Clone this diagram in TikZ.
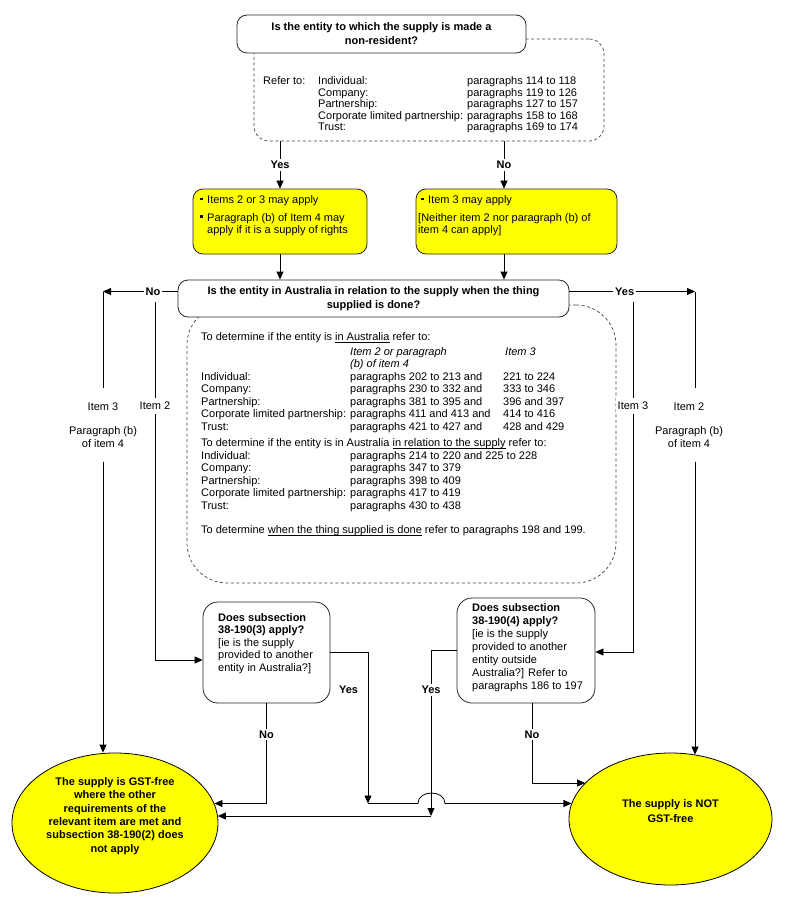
\documentclass[tikz,border=0pt]{standalone}
\usepackage{fontspec}
\setmainfont{Liberation Sans}
\usetikzlibrary{arrows.meta, shapes.geometric}
\definecolor{boxyellow}{HTML}{FFFF00}
\newcommand{\fsz}[1]{\fontsize{11}{#1}\selectfont}
\newcommand{\sqb}{\makebox[7pt][l]{\rule[2.5pt]{3pt}{3pt}}}
\newcommand{\undr}[1]{\setbox0\hbox{#1}\rlap{\rule[-2.2pt]{\wd0}{0.7pt}}\box0\relax}
\tikzset{
  line/.style={line width=0.8pt},
  conn/.style={line, -{Triangle[length=8pt,width=7pt]}},
  qbox/.style={draw=black!85, line width=0.8pt, fill=white, rounded corners=10pt, inner sep=0pt},
  ybox/.style={qbox, fill=boxyellow},
  notebox/.style={draw=black!75, line width=0.7pt, dash pattern=on 3pt off 2.5pt, inner sep=0pt},
  result/.style={ellipse, draw=black, line width=0.8pt, fill=boxyellow, inner sep=0pt, align=center},
  yn/.style={font={\fsz{12.5}\bfseries}, fill=white, inner sep=2pt},
  itemlbl/.style={fill=white, inner xsep=2pt, inner ysep=4pt, align=center},
  txt/.style={anchor=base west, inner sep=0pt},
}
\begin{document}
\begin{tikzpicture}[x=1pt, y=-1pt, every node/.append style={font=\fsz{12.5}}]
\useasboundingbox (0,0) rectangle (785,912);

% notes behind the questions
\node[notebox, rounded corners=15pt, minimum width=350pt, minimum height=102pt] (refs1) at (429,90) {};
\node[notebox, rounded corners=40pt, minimum width=429pt, minimum height=278pt] (refs2) at (401.5,444) {};

\node[qbox, minimum width=289pt, minimum height=38pt, align=center, font={\fsz{14}\bfseries}] (q1) at (381.5,34)
  {Is the entity to which the supply is made a\\non-resident?};
\node[txt, font=\fsz{11.25}] (refs1txt) at (263,85) {\begin{tabular}[t]{@{}p{55pt}@{}p{149pt}@{}l@{}}
Refer to: & Individual: & paragraphs 114 to 118\\
 & Company: & paragraphs 119 to 126\\
 & Partnership: & paragraphs 127 to 157\\
 & \mbox{Corporate limited partnership:} & paragraphs 158 to 168\\
 & Trust: & paragraphs 169 to 174
\end{tabular}};

% yes / no boxes
\node[ybox, minimum width=174pt, minimum height=65pt] (yes1) at (280,221.5) {};
\node[txt, font=\fsz{12}] (yes1txt) at (200,203) {\begin{tabular}[t]{@{}l@{}}
\sqb Items 2 or 3 may apply\\[6pt]
\sqb Paragraph (b) of Item 4 may\\
\hspace*{7pt}apply if it is a supply of rights
\end{tabular}};
\node[ybox, minimum width=201pt, minimum height=65pt] (no1) at (516.5,221.5) {};
\node[txt, font=\fsz{12}] (no1txt) at (418,203) {\begin{tabular}[t]{@{}l@{}}
\hspace*{3pt}\sqb Item 3 may apply\\[6pt]
{[}Neither item 2 nor paragraph (b) of\\
item 4 can apply]
\end{tabular}};

\node[qbox, minimum width=391pt, minimum height=37pt, align=center, font={\fsz{14}\bfseries}] (q2) at (373.5,298.5)
  {Is the entity in Australia in relation to the supply when the thing\\supplied is done?};
\node[txt, font=\fsz{12.5}] (refs2txt) at (201,340) {\begin{tabular}[t]{@{}p{149pt}@{}p{153pt}@{}l@{}}
\multicolumn{3}{@{}l@{}}{To determine if the entity is \undr{in Australia} refer to:}\\[2.5pt]
 & \textit{Item 2 or paragraph} & \hspace*{2pt}\textit{Item 3}\\
 & \textit{(b) of item 4} & \\
Individual: & paragraphs 202 to 213 and & 221 to 224\\
Company: & paragraphs 230 to 332 and & 333 to 346\\
Partnership: & paragraphs 381 to 395 and & 396 and 397\\
\mbox{Corporate limited partnership:} & paragraphs 411 and 413 and & 414 to 416\\
Trust: & paragraphs 421 to 427 and & 428 and 429\\[4pt]
\multicolumn{3}{@{}l@{}}{To determine if the entity is in Australia \undr{in relation to the supply} refer to:}\\
Individual: & \multicolumn{2}{@{}l@{}}{paragraphs 214 to 220 and 225 to 228}\\
Company: & paragraphs 347 to 379 & \\
Partnership: & paragraphs 398 to 409 & \\
\mbox{Corporate limited partnership:} & paragraphs 417 to 419 & \\
Trust: & paragraphs 430 to 438 & \\[12pt]
\multicolumn{3}{@{}l@{}}{To determine \undr{when the thing supplied is done} refer to paragraphs 198 and 199.}
\end{tabular}};

% subsection tests
\node[qbox, rounded corners=15pt, minimum width=127pt, minimum height=101pt] (q3) at (266.5,652.5) {};
\node[txt, font=\fsz{12.5}] (q3txt) at (218,621) {\begin{tabular}[t]{@{}l@{}}
\textbf{Does subsection}\\
\textbf{38-190(3) apply?}\\
{[}ie is the supply\\
provided to another\\
entity in Australia?]
\end{tabular}};
\node[qbox, rounded corners=15pt, minimum width=138pt, minimum height=105pt] (q4) at (526,650.5) {};
\node[txt, font=\fsz{13}] (q4txt) at (472,611) {\begin{tabular}[t]{@{}l@{}}
\textbf{Does subsection}\\
\textbf{38-190(4) apply?}\\
{[}ie is the supply\\
provided to another\\
entity outside\\
Australia?] Refer to\\
paragraphs 186 to 197
\end{tabular}};
\node[yn, inner xsep=8.5pt] (yes3) at (348.5,690) {Yes};

% outcomes
\node[result, minimum width=206pt, minimum height=140pt, font={\fsz{13.3}\bfseries}] (gst) at (115,823)
  {The supply is GST-free\\where the other\\requirements of the\\relevant item are met and\\subsection 38-190(2) does\\not apply\\[3pt]\mbox{}};
\node[result, minimum width=203pt, minimum height=132pt, font={\fsz{15}\bfseries}] (nogst) at (670.5,819)
  {The supply is NOT\\GST-free\\\mbox{}};

% item labels on the side lines
\node[itemlbl, inner ysep=14pt] (itemL) at (103,425) {Item 3\\[12pt]Paragraph (b)\\of item 4};
\node[itemlbl, inner ysep=14pt] (itemR) at (689,425) {Item 2\\[12pt]Paragraph (b)\\of item 4};
\node[itemlbl] (item2L) at (155,406) {Item 2};
\node[itemlbl] (item3R) at (633,406) {Item 3};

% connectors
\coordinate (noX) at ([xshift=-12.5pt]no1.north);
\draw[conn] (refs1.south -| yes1) -- node[yn] (yesA) {Yes} (yes1.north);
\draw[conn] (noX |- refs1.south) -- node[yn] (noA) {No} (noX);
\draw[conn] (yes1.south) -- (yes1.south |- q2.north);
\draw[conn] (noX |- no1.south) -- (noX |- q2.north);

\coordinate (cl) at (103,291.5);
\coordinate (cr) at (695,291.5);
\draw[conn] (q2.west |- cl) -- node[yn, pos=0.33] (noB) {No} (cl);
\draw[conn] (q2.east |- cr) -- node[yn, pos=0.44] (yesB) {Yes} (cr);
\draw[line] (cl) -- (cl |- itemL.north);
\draw[conn] (cl |- itemL.south) -- (cl |- gst.north);
\draw[line] (cr) -- (cr |- itemR.north);
\draw[conn] (cr |- itemR.south) -- (cr |- nogst.69);

\coordinate (i2top) at (155,302);
\coordinate (i3top) at (633,302);
\draw[line] (i2top) -- (item2L);
\draw[conn] (item2L) |- ([yshift=-7.5pt]q3.west);
\draw[line] (i3top) -- (item3R);
\draw[conn] (item3R) |- ([yshift=-1.5pt]q4.east);

\coordinate (j3) at (368,803.5);
\coordinate (hopL) at (418,803.5);
\coordinate (hopR) at (445,803.5);
\draw[conn] (q3.east) -| (j3);
\draw[conn] (j3) -- (hopL) .. controls ([yshift=14pt]hopL) and ([yshift=14pt]hopR) .. (hopR) -- (j3 -| nogst.171);

\coordinate (j4) at (431,816);
\draw[conn] (q4.west) -| node[yn, pos=0.62] (yesD) {Yes} (j4);
\draw[conn] (j4) -- (j4 -| gst.4);

\coordinate (c3no) at (266.5,803.5);
\draw[conn] (q3.south) -- node[yn, pos=0.31] (noC) {No} (c3no) -- (c3no -| gst.11);

\coordinate (q4x) at ([xshift=6pt]q4.south);
\coordinate (c4no) at (532,783);
\draw[conn] (q4x) -- node[yn, pos=0.39] (noD) {No} (c4no) -- (c4no -| nogst.157);
\end{tikzpicture}
\end{document}
